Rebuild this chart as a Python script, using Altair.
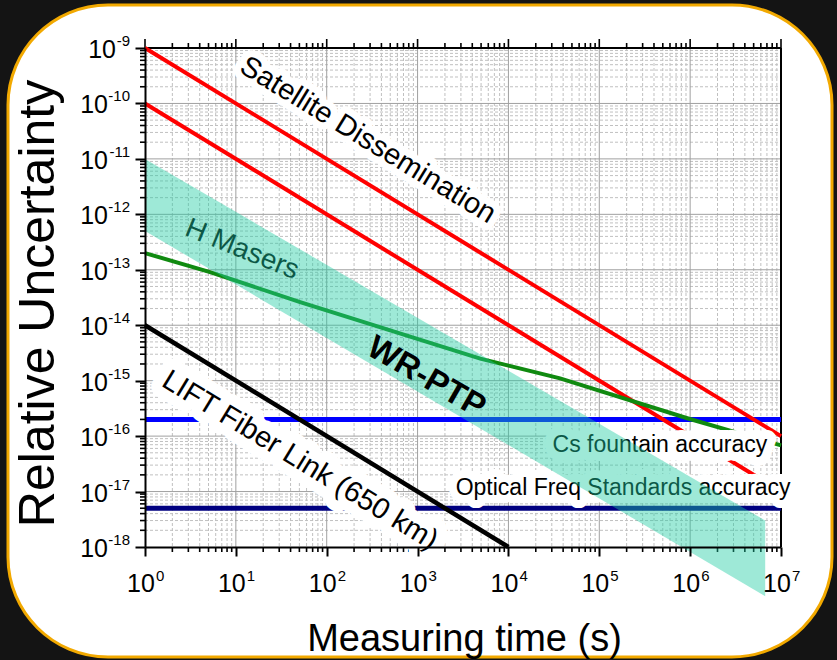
import altair as alt
import pandas as pd

# ---------------- data ----------------
x_major = [1, 1e1, 1e2, 1e3, 1e4, 1e5, 1e6, 1e7]
x_exponents = ["0", "1", "2", "3", "4", "5", "6", "7"]
x_minor = [m * 10.0 ** k for k in range(0, 7) for m in range(2, 10)]

y_major = [1e-18, 1e-17, 1e-16, 1e-15, 1e-14, 1e-13, 1e-12, 1e-11, 1e-10, 1e-9]
y_exponents = ["-18", "-17", "-16", "-15", "-14", "-13", "-12", "-11", "-10", "-9"]
y_minor = [m * 10.0 ** k for k in range(-18, -9) for m in range(2, 10)]

sat_tau = [1, 1e7]
sat_upper = [1e-9, 1e-16]
sat_lower = [1e-10, 1e-17]

lift_tau = [1, 1e4]
lift_vals = [1e-14, 1e-18]

hmaser_tau = [1, 5.2, 51, 4.9e3, 3.7e4, 9.3e5, 1e7]
hmaser_vals = [2.0e-13, 9.1e-14, 2.6e-14, 2.5e-15, 1.1e-15, 2.1e-16, 6.8e-17]

level_tau = [1, 1e7]
cs_level = [2e-16, 2e-16]
optical_level = [5e-18, 5e-18]

band_tau = [1, 6.7e6]
band_top = [1e-11, 3.0e-18]
band_bottom = [5e-13, 1.3e-19]

labels = {
    "sat": ("Satellite Dissemination", 284, 2.2e-11),
    "lift": ("LIFT Fiber Link (650 km)", 51, 3.7e-17),
    "hm": ("H Masers", 11.7, 2.3e-13),
    "wr": ("WR-PTP", 1250, 1.15e-15),
    "cs": ("Cs fountain accuracy", 4.65e5, 6.9e-17),
    "opt": ("Optical Freq Standards accuracy", 1.83e5, 1.15e-17),
}

# ---------------- layout ----------------
W, H = 636, 499
FONT = "Liberation Sans"
xs = alt.Scale(type="log", domain=[1, 1e7], nice=False)
ys = alt.Scale(type="log", domain=[1e-18, 1e-9], nice=False)

x_axis = alt.Axis(
    values=x_major, labels=False, grid=False, zindex=1,
    tickSize=9, tickWidth=2, tickColor="black", domainColor="black", domainWidth=2,
    title="Measuring time (s)", titleFont=FONT, titleFontSize=38, titleFontWeight="normal",
    titleColor="black", titleX=319, titleY=103, titleBaseline="alphabetic",
)
y_axis = alt.Axis(
    values=y_major, labels=False, grid=False, zindex=1,
    tickSize=10, tickWidth=2, tickColor="black", domainColor="black", domainWidth=2,
    title="Relative Uncertainty", titleFont=FONT, titleFontSize=50, titleFontWeight="normal",
    titleColor="black", titleX=-92, titleY=255, titleBaseline="alphabetic", titleAngle=-90,
)

def X(field):
    return alt.X(field, scale=xs, axis=x_axis)

def Y(field):
    return alt.Y(field, scale=ys, axis=y_axis)

one = pd.DataFrame({"k": [0]})

bg = alt.Chart(one).mark_rect(
    fill="white", stroke="#F2A900", strokeWidth=3, cornerRadius=100
).encode(
    x=alt.value(8 - 145), x2=alt.value(832 - 145),
    y=alt.value(5 - 48), y2=alt.value(657 - 48),
)

def xgrid(vals, color, dash, width=1):
    return alt.Chart(pd.DataFrame({"v": vals})).mark_rule(
        color=color, strokeWidth=width, strokeDash=dash
    ).encode(x=X("v:Q"), y=alt.value(0), y2=alt.value(H))

def ygrid(vals, color, dash, width=1):
    return alt.Chart(pd.DataFrame({"v": vals})).mark_rule(
        color=color, strokeWidth=width, strokeDash=dash
    ).encode(y=Y("v:Q"), x=alt.value(0), x2=alt.value(W))

grid = [
    xgrid(x_minor, "#c0c0c0", [3, 2]),
    ygrid(y_minor, "#c0c0c0", [3, 2]),
    xgrid(x_major[1:-1], "#a0a0a0", []),
    ygrid(y_major[1:-1], "#a0a0a0", []),
]

def xticks(vals, y0, y1):
    return alt.Chart(pd.DataFrame({"v": vals})).mark_rule(color="black", strokeWidth=1.6).encode(
        x=X("v:Q"), y=alt.value(y0), y2=alt.value(y1))

def yticks(vals, x0, x1):
    return alt.Chart(pd.DataFrame({"v": vals})).mark_rule(color="black", strokeWidth=1.6).encode(
        y=Y("v:Q"), x=alt.value(x0), x2=alt.value(x1))

ticks = [
    xticks(x_minor, H, H + 5),
    xticks(x_minor, 0, -5),
    xticks(x_major, 0, -9),
    yticks(y_minor, 0, -5),
    alt.Chart(one).mark_rule(color="black", strokeWidth=2).encode(
        x=alt.value(0), x2=alt.value(W), y=alt.value(0)),
    alt.Chart(one).mark_rule(color="black", strokeWidth=2).encode(
        x=alt.value(W), y=alt.value(0), y2=alt.value(H)),
]

# tick labels: "10" plus a raised exponent
xlab = pd.DataFrame({"v": x_major, "e": x_exponents})
ylab = pd.DataFrame({"v": y_major, "e": y_exponents})
tick_labels = [
    alt.Chart(xlab).mark_text(text="10", font=FONT, fontSize=25, align="center",
                              baseline="alphabetic", dx=-4, color="black").encode(
        x=X("v:Q"), y=alt.value(H + 45)),
    alt.Chart(xlab).mark_text(font=FONT, fontSize=15, align="left",
                              baseline="alphabetic", dx=11, color="black").encode(
        x=X("v:Q"), y=alt.value(H + 34), text="e:N"),
    alt.Chart(ylab).mark_text(font=FONT, fontSize=15, align="right",
                              baseline="alphabetic", dy=-2, color="black").encode(
        y=Y("v:Q"), x=alt.value(-15), text="e:N"),
    alt.Chart(ylab).transform_filter("length(datum.e) == 2").mark_text(
        text="10", font=FONT, fontSize=25, align="right", baseline="alphabetic",
        dx=-14, dy=10, color="black").encode(y=Y("v:Q"), x=alt.value(-15)),
    alt.Chart(ylab).transform_filter("length(datum.e) == 3").mark_text(
        text="10", font=FONT, fontSize=25, align="right", baseline="alphabetic",
        dx=-22, dy=10, color="black").encode(y=Y("v:Q"), x=alt.value(-15)),
]

def line(tau, vals, color, width):
    df = pd.DataFrame({"tau": tau, "val": vals})
    return alt.Chart(df).mark_line(color=color, strokeWidth=width, clip=False).encode(
        x=X("tau:Q"), y=Y("val:Q"))

lines_under = [
    line(level_tau, cs_level, "#0000FF", 5),
    line(level_tau, optical_level, "#000080", 5),
    line(sat_tau, sat_upper, "#FF0000", 4),
    line(sat_tau, sat_lower, "#FF0000", 4),
    line(hmaser_tau, hmaser_vals, "#108A10", 4),
]

def text(key, size, angle, color="black", weight="normal", halo=0):
    t, tau, val = labels[key]
    df = pd.DataFrame({"tau": [tau], "val": [val], "t": [t]})
    enc = dict(x=X("tau:Q"), y=Y("val:Q"), text="t:N")
    out = []
    if halo:
        out.append(alt.Chart(df).mark_text(
            font=FONT, fontSize=size, angle=angle, fontWeight=weight, align="center",
            baseline="middle", fill="white", stroke="white", strokeWidth=halo, strokeJoin="round"
        ).encode(**enc))
    out.append(alt.Chart(df).mark_text(
        font=FONT, fontSize=size, angle=angle, fontWeight=weight, align="center",
        baseline="middle", color=color
    ).encode(**enc))
    return out

texts = (text("sat", 29, 31.4, halo=14) + text("lift", 29, 31.4, halo=22)
         + text("hm", 28, 22)
         + text("cs", 23, 0, halo=18) + text("opt", 23, 0, halo=16))

black_line = line(lift_tau, lift_vals, "black", 4.5)

band = alt.Chart(pd.DataFrame({"tau": band_tau, "top": band_top, "bot": band_bottom})).mark_area(
    color="#1FCDA3", opacity=0.43, clip=False
).encode(
    x=X("tau:Q"),
    y=Y("top:Q"),
    y2="bot:Q",
)

wr = text("wr", 33, 30, weight="bold")

chart = alt.layer(
    bg, *grid, *ticks, *tick_labels, *lines_under, *texts, black_line, band, *wr
).properties(
    width=W, height=H,
    autosize=alt.AutoSizeParams(type="none"),
    padding={"left": 145, "top": 48, "right": 56, "bottom": 113},
    background="#141414",
).configure_view(stroke=None)

chart.save("out.html", embed_options={"renderer": "svg", "actions": False})
